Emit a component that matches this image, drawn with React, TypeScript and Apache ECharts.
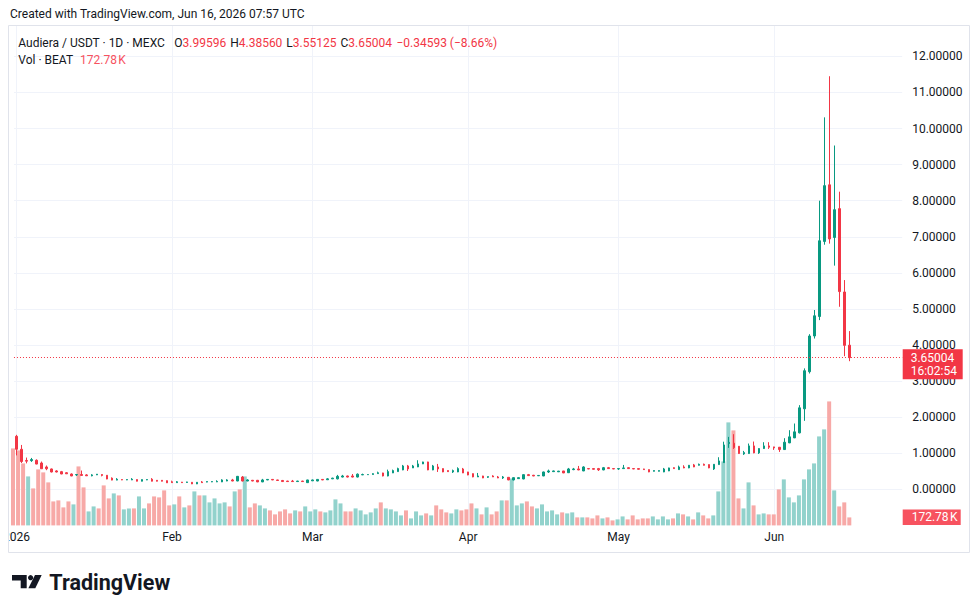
import React, { useEffect, useRef } from 'react';
import * as echarts from 'echarts';

// ---------- data ----------
const firstDayUTC = Date.UTC(2026, 0, 1);
const slotCount = 177; // Jan 1 .. Jun 26 (chart runs a few empty days past the last candle)
const monthLabels = ['2026', 'Feb', 'Mar', 'Apr', 'May', 'Jun'];

const openPrices = [
  1.47, 1.11, 0.80, 0.795, 0.805, 0.73, 0.62, 0.565, 0.51, 0.49,
  0.46, 0.425, 0.40, 0.41, 0.40, 0.375, 0.40, 0.41, 0.39, 0.31,
  0.255, 0.27, 0.26, 0.26, 0.27, 0.225, 0.26, 0.28, 0.25, 0.25,
  0.24, 0.21, 0.185, 0.20, 0.19, 0.195, 0.15, 0.205, 0.20, 0.205,
  0.205, 0.205, 0.23, 0.26, 0.23, 0.34, 0.23, 0.25, 0.25, 0.205,
  0.26, 0.275, 0.26, 0.245, 0.23, 0.23, 0.215, 0.23, 0.185, 0.235,
  0.23, 0.275, 0.265, 0.29, 0.29, 0.34, 0.37, 0.37, 0.34, 0.40,
  0.405, 0.41, 0.435, 0.454, 0.37, 0.454, 0.491, 0.537, 0.648, 0.593,
  0.62, 0.704, 0.759, 0.537, 0.62, 0.574, 0.52, 0.481, 0.481, 0.565,
  0.481, 0.435, 0.343, 0.37, 0.333, 0.37, 0.343, 0.315, 0.333, 0.259,
  0.296, 0.287, 0.407, 0.39, 0.375, 0.37, 0.48, 0.49, 0.485, 0.509,
  0.46, 0.546, 0.565, 0.509, 0.574, 0.574, 0.574, 0.537, 0.60, 0.574,
  0.565, 0.574, 0.60, 0.574, 0.574, 0.565, 0.546, 0.50, 0.50, 0.481,
  0.509, 0.60, 0.546, 0.62, 0.593, 0.676, 0.667, 0.694, 0.685, 0.565,
  0.685, 0.74, 1.27, 1.278, 1.194, 0.981, 0.991, 1.204, 1.009, 1.13,
  1.204, 1.176, 1.167, 1.102, 1.287, 1.426, 1.565, 2.231, 3.26, 4.25,
  4.79, 6.87, 8.44, 6.98, 7.78, 5.47, 3.99596,
];
const closePrices = [
  1.11, 0.77, 0.78, 0.825, 0.70, 0.57, 0.57, 0.48, 0.48, 0.425,
  0.43, 0.37, 0.41, 0.385, 0.375, 0.40, 0.42, 0.385, 0.285, 0.255,
  0.28, 0.26, 0.27, 0.28, 0.225, 0.27, 0.27, 0.225, 0.225, 0.225,
  0.18, 0.185, 0.21, 0.185, 0.205, 0.15, 0.195, 0.185, 0.215, 0.215,
  0.22, 0.26, 0.26, 0.23, 0.36, 0.23, 0.26, 0.23, 0.205, 0.26,
  0.275, 0.26, 0.245, 0.215, 0.215, 0.215, 0.23, 0.215, 0.26, 0.26,
  0.275, 0.26, 0.29, 0.31, 0.36, 0.37, 0.34, 0.34, 0.42, 0.41,
  0.41, 0.435, 0.46, 0.37, 0.491, 0.519, 0.574, 0.648, 0.565, 0.648,
  0.704, 0.759, 0.537, 0.648, 0.565, 0.481, 0.49, 0.519, 0.574, 0.454,
  0.398, 0.343, 0.37, 0.315, 0.352, 0.343, 0.315, 0.343, 0.259, 0.324,
  0.324, 0.407, 0.38, 0.37, 0.385, 0.481, 0.51, 0.51, 0.505, 0.454,
  0.565, 0.565, 0.537, 0.62, 0.565, 0.556, 0.54, 0.60, 0.574, 0.565,
  0.574, 0.593, 0.574, 0.565, 0.556, 0.546, 0.481, 0.52, 0.52, 0.565,
  0.593, 0.574, 0.62, 0.593, 0.667, 0.62, 0.694, 0.667, 0.593, 0.694,
  0.787, 1.23, 1.30, 1.157, 0.991, 1.019, 1.204, 1.009, 1.13, 1.204,
  1.167, 1.148, 1.102, 1.306, 1.454, 1.593, 2.259, 3.287, 4.25, 4.81,
  6.89, 8.417, 6.94, 7.75, 5.48, 3.99, 3.65004,
];
const lowPrices = [
  0.94, 0.73, 0.72, 0.76, 0.695, 0.565, 0.53, 0.47, 0.47, 0.42,
  0.425, 0.365, 0.37, 0.38, 0.37, 0.36, 0.395, 0.36, 0.28, 0.25,
  0.25, 0.255, 0.255, 0.255, 0.22, 0.22, 0.255, 0.22, 0.22, 0.22,
  0.175, 0.18, 0.18, 0.18, 0.18, 0.145, 0.145, 0.18, 0.195, 0.20,
  0.20, 0.20, 0.225, 0.225, 0.225, 0.22, 0.225, 0.225, 0.20, 0.20,
  0.255, 0.255, 0.24, 0.21, 0.21, 0.21, 0.21, 0.21, 0.18, 0.23,
  0.225, 0.255, 0.26, 0.285, 0.275, 0.33, 0.33, 0.33, 0.33, 0.395,
  0.40, 0.405, 0.43, 0.36, 0.36, 0.45, 0.485, 0.53, 0.509, 0.59,
  0.615, 0.70, 0.53, 0.53, 0.481, 0.475, 0.481, 0.454, 0.475, 0.45,
  0.39, 0.335, 0.34, 0.31, 0.315, 0.34, 0.31, 0.287, 0.255, 0.25,
  0.29, 0.28, 0.375, 0.365, 0.37, 0.365, 0.454, 0.485, 0.48, 0.45,
  0.454, 0.53, 0.53, 0.505, 0.56, 0.55, 0.509, 0.53, 0.565, 0.56,
  0.537, 0.565, 0.565, 0.56, 0.55, 0.54, 0.475, 0.495, 0.495, 0.475,
  0.505, 0.565, 0.54, 0.585, 0.585, 0.615, 0.66, 0.66, 0.585, 0.537,
  0.68, 0.73, 1.148, 1.12, 0.98, 0.954, 0.98, 1.0, 0.981, 1.12,
  1.12, 1.093, 1.037, 1.09, 1.28, 1.42, 1.55, 1.898, 3.21, 4.18,
  4.69, 6.78, 6.81, 6.20, 5.06, 3.69, 3.55125,
];
const highPrices = [
  1.51, 1.23, 0.88, 0.87, 0.83, 0.77, 0.66, 0.575, 0.53, 0.51,
  0.475, 0.44, 0.415, 0.52, 0.42, 0.42, 0.425, 0.415, 0.395, 0.33,
  0.31, 0.275, 0.275, 0.31, 0.275, 0.275, 0.275, 0.31, 0.255, 0.255,
  0.245, 0.24, 0.23, 0.205, 0.21, 0.20, 0.20, 0.23, 0.22, 0.22,
  0.25, 0.28, 0.28, 0.29, 0.37, 0.37, 0.28, 0.26, 0.26, 0.29,
  0.28, 0.28, 0.265, 0.26, 0.235, 0.26, 0.235, 0.235, 0.265, 0.27,
  0.28, 0.28, 0.31, 0.32, 0.40, 0.40, 0.38, 0.425, 0.44, 0.435,
  0.415, 0.445, 0.49, 0.46, 0.546, 0.546, 0.60, 0.676, 0.676, 0.676,
  0.806, 0.765, 0.765, 0.676, 0.704, 0.58, 0.525, 0.546, 0.61, 0.593,
  0.485, 0.44, 0.454, 0.375, 0.355, 0.39, 0.37, 0.37, 0.34, 0.33,
  0.33, 0.41, 0.426, 0.40, 0.39, 0.49, 0.546, 0.52, 0.51, 0.51,
  0.593, 0.593, 0.648, 0.64, 0.58, 0.58, 0.593, 0.62, 0.62, 0.58,
  0.58, 0.676, 0.61, 0.58, 0.58, 0.57, 0.55, 0.525, 0.525, 0.593,
  0.60, 0.61, 0.657, 0.667, 0.675, 0.704, 0.713, 0.713, 0.69, 0.70,
  0.889, 1.32, 1.454, 1.528, 1.20, 1.065, 1.269, 1.324, 1.14, 1.306,
  1.306, 1.18, 1.17, 1.417, 1.639, 1.824, 2.333, 3.352, 4.30, 4.97,
  8.0, 10.31, 11.45, 9.53, 8.25, 5.80, 4.3856,
];
// volume in thousands of BEAT
const volumesK = [
  1663, 1620, 1339, 1058, 799, 1210, 1145, 929, 518, 540,
  389, 518, 454, 1274, 821, 302, 410, 367, 864, 583,
  691, 648, 346, 367, 367, 626, 367, 475, 626, 605,
  756, 432, 454, 626, 389, 432, 734, 648, 648, 497,
  583, 475, 497, 410, 734, 778, 1058, 389, 475, 432,
  367, 324, 238, 302, 346, 259, 324, 302, 410, 302,
  346, 302, 281, 324, 562, 475, 302, 302, 367, 324,
  238, 281, 367, 497, 367, 346, 302, 216, 324, 151,
  302, 216, 259, 216, 432, 346, 281, 259, 346, 324,
  346, 475, 367, 238, 389, 238, 302, 540, 540, 1015,
  432, 475, 518, 410, 367, 454, 302, 324, 238, 281,
  259, 281, 173, 173, 173, 151, 216, 151, 173, 108,
  130, 194, 130, 216, 130, 151, 151, 194, 130, 194,
  130, 151, 259, 238, 194, 130, 281, 216, 151, 216,
  734, 1382, 2225, 2052, 583, 367, 929, 432, 238, 259,
  238, 238, 778, 994, 605, 497, 648, 994, 1210, 1339,
  1922, 2074, 2678, 756, 410, 497, 172.78,
];
const lastClose = 3.65004;
const lastVolumeK = 172.78;
const priceTickMax = 12;

const headerText = 'Created with TradingView.com, Jun 16, 2026 07:57 UTC';
const symbolText = 'Audiera / USDT \u00b7 1D \u00b7 MEXC';
const ohlcLabels = ['O', 'H', 'L', 'C'];
const ohlcValues = ['3.99596', '4.38560', '3.55125', '3.65004'];
const changeText = '\u22120.34593 (\u22128.66%)';
const volTitle = 'Vol \u00b7 BEAT';
const volValueText = '172.78\u202fK';
const badgeTime = '16:02:54';

// ---------- style ----------
const UP = '#089981';
const DOWN = '#F23645';
const VOL_UP = '#92d2cc';
const VOL_DOWN = '#f7a9a7';
const GRID = '#f0f3fa';
const TEXT = '#131722';
const FONT = 'Roboto, sans-serif';

const categories: string[] = [];
for (let k = 0; k < slotCount; k++) {
  categories.push(new Date(firstDayUTC + k * 86400000).toISOString().slice(0, 10));
}
const isMonthStart = (c: string) => c.endsWith('-01');

export default function App() {
  const ref = useRef<HTMLDivElement>(null);
  useEffect(() => {
    if (!ref.current) return;
    const chart = echarts.init(ref.current, undefined, { renderer: 'svg', width: 980, height: 613 });
    const candleData = openPrices.map((o, i) => [o, closePrices[i], lowPrices[i], highPrices[i]]);
    const volData = volumesK.map((v, i) => ({
      value: v,
      itemStyle: { color: closePrices[i] >= openPrices[i] ? VOL_UP : VOL_DOWN },
    }));
    const gridRect = { left: 10.5, top: 25, width: 891.7, height: 500.4 };
    chart.setOption({
      animation: false,
      backgroundColor: '#ffffff',
      grid: [gridRect, gridRect],
      xAxis: [
        {
          type: 'category',
          gridIndex: 0,
          data: categories,
          boundaryGap: true,
          axisLine: { show: false },
          axisTick: { show: false },
          axisLabel: {
            interval: (_: number, v: string) => isMonthStart(v),
            formatter: (v: string) => monthLabels[parseInt(v.slice(5, 7), 10) - 1],
            color: TEXT,
            fontSize: 12,
            fontFamily: FONT,
            margin: 6,
          },
          splitLine: {
            show: true,
            interval: (_: number, v: string) => isMonthStart(v),
            alignWithLabel: true,
            lineStyle: { color: GRID, width: 1 },
          },
        },
        { type: 'category', gridIndex: 1, data: categories, boundaryGap: true, show: false },
      ],
      yAxis: [
        {
          type: 'value',
          gridIndex: 0,
          position: 'right',
          min: -1,
          max: 12.87,
          interval: 1,
          axisLine: { show: false },
          axisTick: { show: false },
          axisLabel: {
            formatter: (v: number) => {
              const r = Math.round(v);
              if (Math.abs(v - r) > 1e-6 || r < 0 || r > priceTickMax) return '';
              return r.toFixed(5);
            },
            color: TEXT,
            fontSize: 12,
            fontFamily: FONT,
            margin: 10,
          },
          splitLine: { show: true, showMinLine: false, showMaxLine: false, lineStyle: { color: GRID, width: 1 } },
        },
        { type: 'value', gridIndex: 1, min: 0, max: 10808.6, show: false, splitLine: { show: false } },
      ],
      series: [
        {
          type: 'bar',
          xAxisIndex: 1,
          yAxisIndex: 1,
          data: volData,
          barWidth: 4,
          z: 1,
          silent: true,
        },
        {
          type: 'candlestick',
          xAxisIndex: 0,
          yAxisIndex: 0,
          data: candleData,
          barWidth: 2,
          z: 2,
          silent: true,
          itemStyle: { color: UP, color0: DOWN, borderColor: UP, borderColor0: DOWN, borderWidth: 1 },
          markLine: {
            silent: true,
            symbol: ['none', 'none'],
            label: { show: false },
            lineStyle: { color: DOWN, type: [1, 2], width: 1 },
            data: [{ yAxis: lastClose }],
          },
        },
      ],
    });

    const yPrice = chart.convertToPixel({ yAxisIndex: 0 }, lastClose) as number;
    const yVol = chart.convertToPixel({ yAxisIndex: 1 }, lastVolumeK) as number;
    const axisLeft = gridRect.left + gridRect.width;

    const txt = (x: number, y: number, text: string, extra: any = {}) => ({
      type: 'text',
      x,
      y,
      silent: true,
      z: 120,
      style: { text, fontSize: 12, fontFamily: FONT, fill: TEXT, verticalAlign: 'middle', ...extra },
    });
    const rich = {
      f: { fill: TEXT, fontSize: 12, fontFamily: FONT },
      l: { fill: TEXT, fontSize: 12, fontFamily: FONT, padding: [0, 0, 0, 4] },
      v: { fill: DOWN, fontSize: 12, fontFamily: FONT },
      c: { fill: DOWN, fontSize: 12, fontFamily: FONT, padding: [0, 0, 0, 4.5] },
    };
    const ohlcRich =
      ohlcLabels.map((l, k) => `{${k === 0 ? 'f' : 'l'}|${l}}{v|${ohlcValues[k]}}`).join('') +
      `{c|${changeText}}`;

    const elements: any[] = [
      { type: 'rect', silent: true, z: 110, shape: { x: 0, y: 526, width: 8, height: 26 }, style: { fill: '#ffffff' } },
      {
        type: 'rect', silent: true, z: 111,
        shape: { x: 8.5, y: 25.5, width: 961, height: 527 },
        style: { fill: 'none', stroke: '#e0e3eb', lineWidth: 1 },
      },
      txt(10, 14, headerText),
      txt(18.3, 43, symbolText),
      txt(174.3, 43, ohlcRich, { rich }),
      txt(18.3, 59.5, volTitle),
      txt(80, 59.5, volValueText, { fill: '#F7525F' }),
      // last price badge
      {
        type: 'rect', silent: true, z: 115,
        shape: { x: axisLeft + 0.5, y: yPrice - 8.3, width: 60, height: 30 },
        style: { fill: DOWN },
      },
      txt(axisLeft + 8.5, yPrice + 0.3, lastClose.toFixed(5), { fill: '#ffffff' }),
      txt(axisLeft + 8.5, yPrice + 13.6, badgeTime, { fill: '#ffffff' }),
      // volume badge
      {
        type: 'rect', silent: true, z: 115,
        shape: { x: axisLeft + 0.5, y: yVol - 7.8, width: 58, height: 15.4 },
        style: { fill: '#F7525F' },
      },
      txt(axisLeft + 9.5, yVol, volValueText, { fill: '#ffffff' }),
      // TradingView logo
      {
        type: 'polygon', silent: true, z: 120,
        shape: { points: [[12, 575], [26.7, 575], [26.7, 588.3], [20.7, 588.3], [20.7, 580.5], [12, 580.5]] },
        style: { fill: TEXT },
      },
      { type: 'circle', silent: true, z: 120, shape: { cx: 30.6, cy: 577.7, r: 2.6 }, style: { fill: TEXT } },
      {
        type: 'polygon', silent: true, z: 120,
        shape: { points: [[35, 575], [41.7, 575], [35.3, 588.3], [28.4, 588.3]] },
        style: { fill: TEXT },
      },
      txt(49.3, 582, 'TradingView', { fontSize: 21.5, fontWeight: 700 }),
    ];
    chart.setOption({ graphic: { elements } });
    return () => chart.dispose();
  }, []);
  return (
    <div
      ref={ref}
      style={{ position: 'fixed', left: 0, top: 0, width: 980, height: 613, background: '#ffffff' }}
    />
  );
}
